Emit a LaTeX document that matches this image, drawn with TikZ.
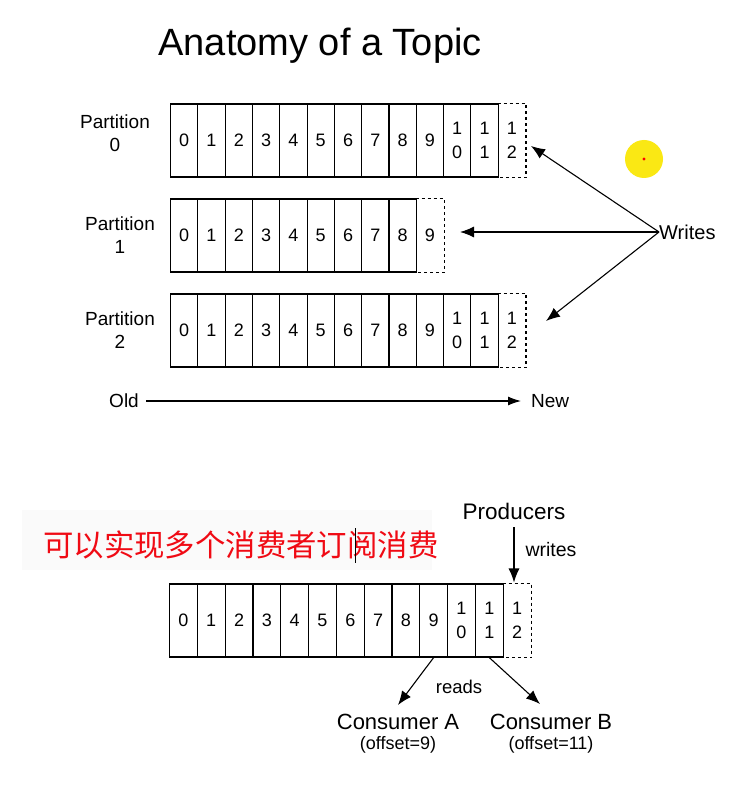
\documentclass[tikz,border=0pt]{standalone}
\usepackage{fontspec}
\setmainfont{Liberation Sans}
\newfontfamily\cjk{Noto Sans CJK SC}
\usetikzlibrary{arrows.meta}
\definecolor{hlred}{RGB}{240,10,20}
\definecolor{hlyellow}{RGB}{250,232,20}
\tikzset{
  cell/.style={draw, line width=1.1pt, minimum width=27.3pt, minimum height=73pt, inner sep=0pt, anchor=west, font=\fontsize{18}{24}\selectfont, align=center},
  newcell/.style={cell, draw=none},
  lbl/.style={font=\fontsize{19}{23}\selectfont, align=center, inner sep=0pt},
  arr/.style={line width=1.1pt, -{Latex[length=14pt,width=11pt]}},
}
\begin{document}
\begin{tikzpicture}[x=1pt,y=-1pt]
\useasboundingbox (0,0) rectangle (750,786);
\fill[white] (0,0) rectangle (750,786);
% title
\node[font=\fontsize{38}{44}\selectfont] (title) at (320,46) {Anatomy of a Topic};
% yellow marker
\fill[hlyellow] (644,159) circle (19);
\fill[red] (644,159) circle (1.6);
% partitions
\foreach \r/\y/\n in {0/140.5/12, 1/235.5/9, 2/330.5/12}{
  \foreach \i in {0,...,11}{
    \ifnum\i<\n
      \ifnum\i>9
        \pgfmathtruncatemacro{\lo}{\i-10}
        \node[cell] (p\r c\i) at ({170+27.3*\i},\y) {1\\\lo};
      \else
        \node[cell] (p\r c\i) at ({170+27.3*\i},\y) {\i};
      \fi
    \fi
  }
  \ifnum\n>9
    \node[newcell] (p\r new) at ({170+27.3*\n},\y) {1\\2};
  \else
    \node[newcell] (p\r new) at ({170+27.3*\n},\y) {\n};
  \fi
  \draw[dashed, line width=1.1pt] (p\r new.north west) -- (p\r new.north east) -- (p\r new.south east) -- (p\r new.south west);
}
\node[lbl] (lab0) at (115,133) {Partition\\0};
\node[lbl] (lab1) at (120,235) {Partition\\1};
\node[lbl] (lab2) at (120,330) {Partition\\2};
% writes
\node[font=\fontsize{20}{22}\selectfont, anchor=west, inner sep=0pt] (writes) at (659,232) {Writes};
\coordinate (t0) at (531,146);
\coordinate (t1) at (460,232);
\coordinate (t2) at (546,321);
\draw[arr] (writes.west) -- (t0);
\draw[arr] (writes.west) -- (t1);
\draw[arr] (writes.west) -- (t2);
% old -> new
\node[lbl, anchor=east] (old) at (139,401) {Old};
\node[lbl, anchor=west] (new) at (531,401) {New};
\draw[line width=1.1pt, -{Latex[length=13pt,width=9pt]}] (old.east) ++(7,0) -- ([xshift=-10pt]new.west);
% chinese note
\fill[black!2] (22,510) rectangle (432,570);
\node[font=\cjk\fontsize{30.4}{32}\selectfont, text=hlred, inner sep=0pt, anchor=west] (note) at (43,545) {可以实现多个消费者订阅消费};
\draw[line width=0.8pt] (355,528) -- (355,563);
% bottom log
\foreach \i in {0,...,11}{
  \ifnum\i>9
    \pgfmathtruncatemacro{\lo}{\i-10}
    \node[cell, minimum width=27.8pt] (b\i) at ({169+27.8*\i},620.5) {1\\\lo};
  \else
    \node[cell, minimum width=27.8pt] (b\i) at ({169+27.8*\i},620.5) {\i};
  \fi
}
\node[newcell, minimum width=27.8pt] (bnew) at ({169+27.8*12},620.5) {1\\2};
\draw[dashed, line width=1.1pt] (bnew.north west) -- (bnew.north east) -- (bnew.south east) -- (bnew.south west);
% producers
\node[font=\fontsize{22.5}{26}\selectfont, inner sep=0pt] (prod) at (514,511) {Producers};
\node[font=\fontsize{19.5}{22}\selectfont, inner sep=0pt] (pw) at (551,550) {writes};
\draw[arr] ([yshift=-8pt]prod.south) -- ([yshift=1pt]bnew.north west -| prod.south);
% consumers
\node[font=\fontsize{22}{26}\selectfont, inner sep=0pt] (ca) at (398,722) {Consumer A};
\node[font=\fontsize{18}{20}\selectfont, inner sep=0pt] (cao) at (398,745) {(offset=9)};
\node[font=\fontsize{22}{26}\selectfont, inner sep=0pt] (cb) at (551,722) {Consumer B};
\node[font=\fontsize{18}{20}\selectfont, inner sep=0pt] (cbo) at (551,745) {(offset=11)};
\node[font=\fontsize{18.5}{22}\selectfont, inner sep=0pt] (reads) at (459,687) {reads};
\coordinate (ra) at (398,705);
\coordinate (rb) at (540,704);
\draw[arr] (b9.south) -- (ra);
\draw[arr] (b11.south) -- (rb);
\end{tikzpicture}
\end{document}
